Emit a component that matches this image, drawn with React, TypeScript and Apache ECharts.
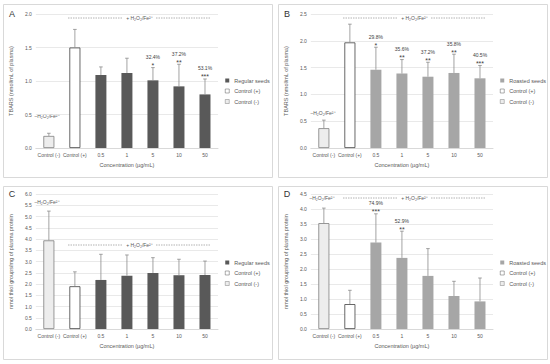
import React, { useEffect, useRef } from "react";
import * as echarts from "echarts";

const categories = ["Control (-)", "Control (+)", "0.5", "1", "5", "10", "50"];

const tbarsRegularMeans = [0.18, 1.5, 1.09, 1.12, 1.01, 0.92, 0.8];
const tbarsRegularSD = [0.04, 0.27, 0.12, 0.22, 0.19, 0.33, 0.23];
const tbarsRegularPct = ["", "", "", "", "32.4%", "37.2%", "53.1%"];
const tbarsRegularStars = ["", "", "", "", "*", "**", "***"];

const tbarsRoastedMeans = [0.37, 1.97, 1.46, 1.39, 1.33, 1.4, 1.3];
const tbarsRoastedSD = [0.15, 0.34, 0.42, 0.26, 0.27, 0.35, 0.24];
const tbarsRoastedPct = ["", "", "29.8%", "35.6%", "37.2%", "35.8%", "40.5%"];
const tbarsRoastedStars = ["", "", "*", "**", "**", "**", "***"];

const thiolRegularMeans = [3.94, 1.9, 2.18, 2.37, 2.49, 2.39, 2.4];
const thiolRegularSD = [1.3, 0.64, 1.14, 0.92, 0.68, 0.71, 0.62];
const thiolRegularPct = ["", "", "", "", "", "", ""];
const thiolRegularStars = ["", "", "", "", "", "", ""];

const thiolRoastedMeans = [3.53, 0.83, 2.88, 2.37, 1.77, 1.1, 0.92];
const thiolRoastedSD = [0.5, 0.46, 0.96, 0.89, 0.91, 0.49, 0.78];
const thiolRoastedPct = ["", "", "74.9%", "52.9%", "", "", ""];
const thiolRoastedStars = ["", "", "***", "**", "", "", ""];

const yMaxA = 2.0;
const yMaxB = 2.5;
const yMaxC = 6.0;
const yMaxD = 4.5;
const yInterval = 0.5;

const tbarsAxisName = "TBARS (nmol/mL of plasma)";
const thiolAxisName = "nmol thiol groups/mg of plasma protein";
const xAxisName = "Concentration (µg/mL)";
const plusLabel = "+ H₂O₂/Fe²⁺";
const minusLabel = "–H₂O₂/Fe²⁺";

const FONT = "'Liberation Sans', Arial, sans-serif";
const TXT = "#595959";

type PanelCfg = {
  letter: string;
  means: number[];
  sd: number[];
  pct: string[];
  stars: string[];
  sampleName: string;
  sampleColor: string;
  yMax: number;
  yName: string;
  gridTop: number;
  gridBottom: number;
  plusY: number;
  minusX: number;
  minusY: number;
  letterY: number;
};

const panels: { left: number; top: number; cfg: PanelCfg }[] = [
  {
    left: 0,
    top: 0,
    cfg: {
      letter: "A",
      means: tbarsRegularMeans,
      sd: tbarsRegularSD,
      pct: tbarsRegularPct,
      stars: tbarsRegularStars,
      sampleName: "Regular seeds",
      sampleColor: "#595959",
      yMax: yMaxA,
      yName: tbarsAxisName,
      gridTop: 14,
      gridBottom: 34,
      plusY: 18,
      minusX: 47,
      minusY: 116,
      letterY: 14,
    },
  },
  {
    left: 275,
    top: 0,
    cfg: {
      letter: "B",
      means: tbarsRoastedMeans,
      sd: tbarsRoastedSD,
      pct: tbarsRoastedPct,
      stars: tbarsRoastedStars,
      sampleName: "Roasted seeds",
      sampleColor: "#a6a6a6",
      yMax: yMaxB,
      yName: tbarsAxisName,
      gridTop: 14,
      gridBottom: 34,
      plusY: 18,
      minusX: 48,
      minusY: 113,
      letterY: 14,
    },
  },
  {
    left: 0,
    top: 182,
    cfg: {
      letter: "C",
      means: thiolRegularMeans,
      sd: thiolRegularSD,
      pct: thiolRegularPct,
      stars: thiolRegularStars,
      sampleName: "Regular seeds",
      sampleColor: "#595959",
      yMax: yMaxC,
      yName: thiolAxisName,
      gridTop: 12,
      gridBottom: 35,
      plusY: 63,
      minusX: 47,
      minusY: 20,
      letterY: 12,
    },
  },
  {
    left: 275,
    top: 182,
    cfg: {
      letter: "D",
      means: thiolRoastedMeans,
      sd: thiolRoastedSD,
      pct: thiolRoastedPct,
      stars: thiolRoastedStars,
      sampleName: "Roasted seeds",
      sampleColor: "#a6a6a6",
      yMax: yMaxD,
      yName: thiolAxisName,
      gridTop: 12,
      gridBottom: 35,
      plusY: 16,
      minusX: 47,
      minusY: 16,
      letterY: 12,
    },
  },
];

function buildOption(c: PanelCfg): any {
  const sampleData = c.means.map((v, i) => (i >= 2 ? v : "-"));
  const plusData = c.means.map((v, i) => (i === 1 ? v : "-"));
  const minusData = c.means.map((v, i) => (i === 0 ? v : "-"));
  const errData = c.means.map((v, i) => [i, v, v + c.sd[i]]);
  const dash = { stroke: "#a0a0a0", lineWidth: 0.8, lineDash: [1.5, 1] };

  return {
    animation: false,
    textStyle: { fontFamily: FONT },
    grid: { left: 33, right: 57, top: c.gridTop, bottom: c.gridBottom },
    legend: {
      data: [
        { name: c.sampleName, itemStyle: { borderWidth: 0 } },
        { name: "Control (+)", itemStyle: { borderWidth: 0.5, borderColor: "#595959", color: "#ffffff" } },
        { name: "Control (-)", itemStyle: { borderWidth: 0.5, borderColor: "#7f7f7f", color: "#ededed" } },
      ],
      orient: "vertical",
      left: 225,
      top: 77,
      padding: 0,
      itemWidth: 4,
      itemHeight: 4,
      itemGap: 3.5,
      icon: "rect",
      textStyle: { fontSize: 5.5, color: TXT, fontFamily: FONT, lineHeight: 7 },
    },
    xAxis: {
      type: "category",
      data: categories,
      name: xAxisName,
      nameLocation: "middle",
      nameGap: 13,
      nameTextStyle: { fontSize: 5.5, color: TXT, fontFamily: FONT },
      axisLine: { lineStyle: { color: "#d9d9d9", width: 1 } },
      axisTick: { show: false },
      axisLabel: { fontSize: 5, color: TXT, margin: 4, interval: 0, fontFamily: FONT },
    },
    yAxis: {
      type: "value",
      min: 0,
      max: c.yMax,
      interval: yInterval,
      name: c.yName,
      nameLocation: "middle",
      nameGap: 14,
      nameTextStyle: { fontSize: 5.5, color: TXT, fontFamily: FONT },
      axisLine: { show: false },
      axisTick: { show: false },
      axisLabel: {
        fontSize: 5,
        color: TXT,
        margin: 4,
        fontFamily: FONT,
        formatter: (v: number) => v.toFixed(1),
      },
      splitLine: { lineStyle: { color: "#e3e3e3", width: 0.8 } },
    },
    series: [
      {
        name: c.sampleName,
        type: "bar",
        data: sampleData,
        barWidth: 11,
        barGap: "-100%",
        itemStyle: { color: c.sampleColor },
      },
      {
        name: "Control (+)",
        type: "bar",
        data: plusData,
        barWidth: 11,
        barGap: "-100%",
        itemStyle: { color: "#ffffff", borderColor: "#404040", borderWidth: 0.8 },
      },
      {
        name: "Control (-)",
        type: "bar",
        data: minusData,
        barWidth: 11,
        barGap: "-100%",
        itemStyle: { color: "#ededed", borderColor: "#7f7f7f", borderWidth: 0.8 },
      },
      {
        type: "custom",
        name: "err",
        data: errData,
        z: 5,
        renderItem: (params: any, api: any) => {
          const i = params.dataIndex;
          const p0 = api.coord([api.value(0), api.value(1)]);
          const p1 = api.coord([api.value(0), api.value(2)]);
          const children: any[] = [
            {
              type: "line",
              shape: { x1: p0[0], y1: p0[1], x2: p1[0], y2: p1[1] },
              style: { stroke: "#8c8c8c", lineWidth: 0.8 },
            },
            {
              type: "line",
              shape: { x1: p1[0] - 1.8, y1: p1[1], x2: p1[0] + 1.8, y2: p1[1] },
              style: { stroke: "#8c8c8c", lineWidth: 0.8 },
            },
          ];
          if (c.stars[i]) {
            children.push({
              type: "text",
              x: p1[0],
              y: p1[1] - 2,
              style: {
                text: c.stars[i],
                textAlign: "center",
                textVerticalAlign: "middle",
                fontSize: 7,
                fontFamily: FONT,
                fill: "#404040",
              },
            });
          }
          if (c.pct[i]) {
            children.push({
              type: "text",
              x: p1[0],
              y: p1[1] - 10.5,
              style: {
                text: c.pct[i],
                textAlign: "center",
                textVerticalAlign: "middle",
                fontSize: 5,
                fontFamily: FONT,
                fill: "#404040",
              },
            });
          }
          return { type: "group", children };
        },
      },
    ],
    graphic: [
      {
        type: "rect",
        silent: true,
        z: -10,
        shape: { x: 3.5, y: 4.5, width: 269, height: 173 },
        style: { fill: "none", stroke: "#d9d9d9", lineWidth: 1 },
      },
      {
        type: "text",
        x: 12,
        y: c.letterY,
        style: {
          text: c.letter,
          fontSize: 9,
          fontFamily: FONT,
          fill: "#333333",
          textAlign: "center",
          textVerticalAlign: "middle",
        },
      },
      { type: "line", shape: { x1: 68, y1: c.plusY, x2: 123, y2: c.plusY }, style: dash },
      { type: "line", shape: { x1: 156, y1: c.plusY, x2: 210, y2: c.plusY }, style: dash },
      {
        type: "text",
        x: 139.5,
        y: c.plusY,
        style: {
          text: plusLabel,
          fontSize: 5,
          fontFamily: FONT,
          fill: TXT,
          textAlign: "center",
          textVerticalAlign: "middle",
        },
      },
      {
        type: "text",
        x: c.minusX,
        y: c.minusY,
        style: {
          text: minusLabel,
          fontSize: 5,
          fontFamily: FONT,
          fill: TXT,
          textAlign: "center",
          textVerticalAlign: "middle",
        },
      },
    ],
  };
}

function Panel({ cfg, left, top }: { cfg: PanelCfg; left: number; top: number }) {
  const ref = useRef<HTMLDivElement>(null);
  useEffect(() => {
    if (!ref.current) return;
    const chart = echarts.init(ref.current, undefined, { renderer: "svg" });
    chart.setOption(buildOption(cfg));
    return () => chart.dispose();
  }, [cfg]);
  return (
    <div
      ref={ref}
      style={{ position: "absolute", left, top, width: 275, height: 182 }}
    />
  );
}

export default function App() {
  return (
    <div
      style={{
        position: "fixed",
        left: 0,
        top: 0,
        width: 550,
        height: 364,
        background: "#ffffff",
      }}
    >
      {panels.map((p) => (
        <Panel key={p.cfg.letter} cfg={p.cfg} left={p.left} top={p.top} />
      ))}
    </div>
  );
}
